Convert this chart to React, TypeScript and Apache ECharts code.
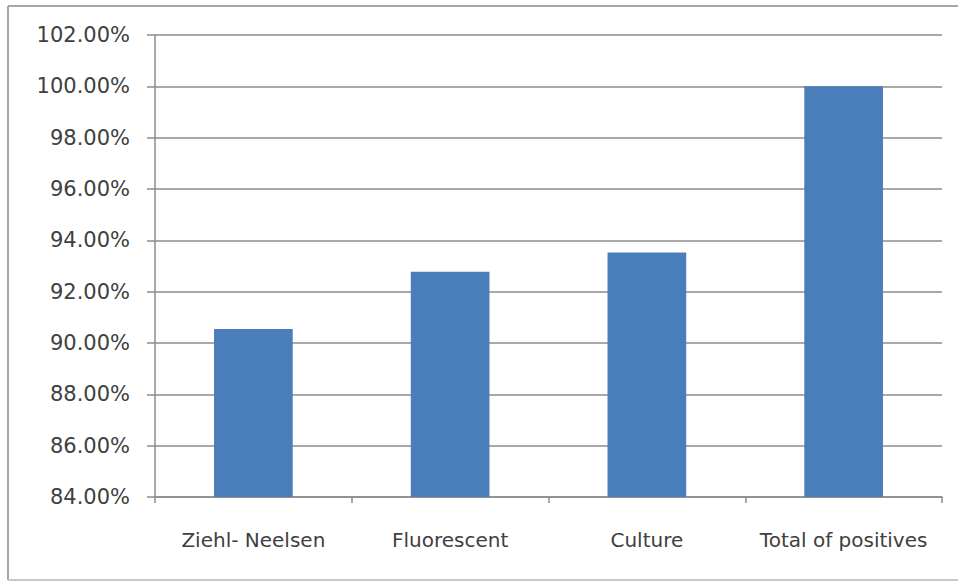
import React, { useEffect, useRef } from "react";
import * as echarts from "echarts";

const categories = ["Ziehl- Neelsen", "Fluorescent", "Culture", "Total of positives"];
const values = [90.55, 92.78, 93.53, 100.0];
const yMin = 84;
const yMax = 102;
const yStep = 2;

export default function App() {
  const ref = useRef<HTMLDivElement>(null);
  useEffect(() => {
    if (!ref.current) return;
    const chart = echarts.init(ref.current, null, { renderer: "svg" });
    const border = { stroke: "#a6a6a6", lineWidth: 2 };
    chart.setOption({
      animation: false,
      backgroundColor: "#ffffff",
      textStyle: { fontFamily: "DejaVu Sans" },
      graphic: [
        { type: "rect", shape: { x: 945, y: 7, width: 20, height: 572 }, style: { fill: "#ffffff" }, silent: true, z: 50 },
        { type: "line", shape: { x1: 8, y1: 6, x2: 958, y2: 6 }, style: border, silent: true, z: 60 },
        { type: "line", shape: { x1: 8, y1: 6, x2: 8, y2: 580 }, style: border, silent: true, z: 60 },
        { type: "line", shape: { x1: 8, y1: 580, x2: 958, y2: 580 }, style: { stroke: "#c8c8c8", lineWidth: 2 }, silent: true, z: 60 },
      ],
      grid: { left: 155, right: 16, top: 35, bottom: 85 },
      xAxis: {
        type: "category",
        data: categories,
        axisLine: { show: true, lineStyle: { color: "#8c8c8c", width: 1.5 } },
        axisTick: { show: true, interval: 0, length: 6, lineStyle: { color: "#8c8c8c", width: 1.5 } },
        axisLabel: {
          color: "#404040",
          fontSize: 20,
          margin: 33,
          interval: 0,
          hideOverlap: false,
          fontFamily: "DejaVu Sans",
        },
      },
      yAxis: {
        type: "value",
        min: yMin,
        max: yMax,
        interval: yStep,
        axisLine: { show: true, lineStyle: { color: "#8c8c8c", width: 1.5 } },
        axisTick: { show: true, length: 8, lineStyle: { color: "#8c8c8c", width: 1.5 } },
        splitLine: { show: true, lineStyle: { color: "#8c8c8c", width: 1.5 } },
        axisLabel: {
          color: "#404040",
          fontSize: 21,
          margin: 25,
          fontFamily: "DejaVu Sans",
          formatter: (v: number) => v.toFixed(2) + "%",
        },
      },
      series: [
        {
          type: "bar",
          data: values,
          barWidth: "40%",
          itemStyle: { color: "#4a7ebb" },
        },
      ],
    });
    return () => chart.dispose();
  }, []);
  return (
    <div
      ref={ref}
      style={{ position: "fixed", left: 0, top: 0, width: 958, height: 582 }}
    />
  );
}
